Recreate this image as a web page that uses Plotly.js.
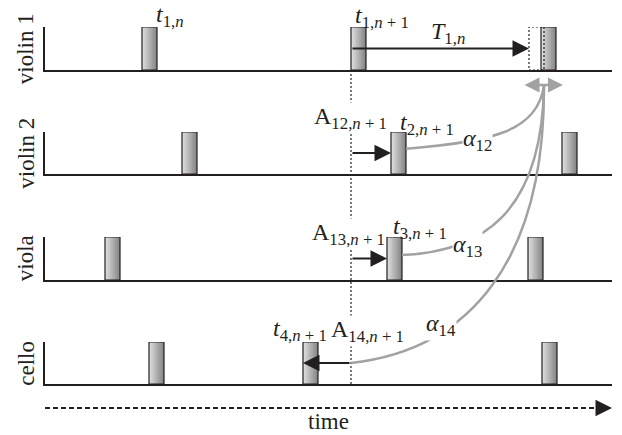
<!DOCTYPE html>
<html>
<head>
<meta charset="utf-8">
<script src="https://cdn.plot.ly/plotly-3.0.1.min.js"></script>
<style>html,body{margin:0;padding:0;background:#fff;}#chart{width:622px;height:435px;}</style>
</head>
<body>
<div id="chart"></div>
<script>
// ---- data (time units along the shared time axis) ----
const instruments = ['violin 1', 'violin 2', 'viola', 'cello'];
const violin1Onsets = [97, 306, 496];
const violin2Onsets = [137, 346, 517];
const violaOnsets = [60, 342, 483];
const celloOnsets = [104, 258, 497];
const predictedViolin1Onset = 484;   // dotted (expected) note of violin 1
const noteDuration = 15;
const timeRange = [0, 567];
const allOnsets = [violin1Onsets, violin2Onsets, violaOnsets, celloOnsets];

// ---- styling ----
const FONT = '"Liberation Serif", "Times New Roman", serif';
const INK = '#231f20';
const GREY = '#a2a2a2';
const domains = [[0.8796, 1], [0.5882, 0.7059], [0.2913, 0.4118], [0, 0.1176]];
const Y = (i, v) => domains[i][0] + v * (domains[i][1] - domains[i][0]);
const axId = i => (i === 0 ? '' : String(i + 1));

// gradient bars: overlayed left-aligned bars of shrinking width, then an outline
const STEPS = 9;
const light = [220, 220, 220], dark = [135, 135, 135];
function shade(k) {
  const f = k / (STEPS - 1);
  const c = dark.map((d, j) => Math.round(d + (light[j] - d) * f));
  return 'rgb(' + c.join(',') + ')';
}

const traces = allOnsets.map((onsets, i) => {
  const x = [], w = [], col = [], lw = [], y = [];
  for (let k = 0; k < STEPS; k++) {
    onsets.forEach(o => { x.push(o); y.push(1); w.push(noteDuration * (STEPS - k) / STEPS); col.push(shade(k)); lw.push(0); });
  }
  onsets.forEach(o => { x.push(o); y.push(1); w.push(noteDuration); col.push('rgba(0,0,0,0)'); lw.push(1.2); });
  return {
    type: 'bar', x: x, y: y, width: w, offset: 0, base: 0,
    marker: { color: col, line: { color: INK, width: lw } },
    xaxis: 'x' + axId(i), yaxis: 'y' + axId(i),
    hoverinfo: 'skip', showlegend: false
  };
});

const layout = {
  width: 622, height: 435,
  margin: { l: 45, r: 10, t: 27, b: 51 },
  paper_bgcolor: '#fff', plot_bgcolor: '#fff',
  barmode: 'overlay', showlegend: false,
  font: { family: FONT, size: 24, color: INK },
  shapes: [], annotations: []
};
instruments.forEach((name, i) => {
  layout['xaxis' + axId(i)] = {
    domain: [0, 1], range: timeRange, anchor: 'y' + axId(i),
    showline: true, linecolor: INK, linewidth: 2, showgrid: false, zeroline: false,
    ticks: '', showticklabels: false, fixedrange: true
  };
  layout['yaxis' + axId(i)] = {
    domain: domains[i], range: [0, 1], anchor: 'x' + axId(i),
    showline: true, linecolor: INK, linewidth: 2, showgrid: false, zeroline: false,
    ticks: '', showticklabels: false, fixedrange: true
  };
  layout.annotations.push({
    xref: 'paper', yref: 'paper', x: -0.034, y: Y(i, 0.5), text: name, textangle: -90,
    showarrow: false, xanchor: 'center', yanchor: 'middle', font: { size: 23 }
  });
});

const ref = violin1Onsets[1];       // t_{1,n+1}
const stemX = predictedViolin1Onset + noteDuration;
const stemY = Y(0, -0.35);

// dotted reference line and dotted predicted note
layout.shapes.push({ type: 'line', xref: 'x', yref: 'paper', x0: ref, x1: ref, y0: Y(3, 0), y1: Y(0, 0),
  line: { color: INK, width: 1.2, dash: '2px,2px' }, layer: 'below' });
layout.shapes.push({ type: 'rect', xref: 'x', yref: 'y', x0: predictedViolin1Onset, x1: stemX, y0: 0, y1: 1,
  line: { color: INK, width: 1.2, dash: '2px,2px' } });

// grey coupling curves (alpha)
function curve(x0, y0, c1x, c1y, c2x, c2y) {
  return { type: 'path', xref: 'x', yref: 'paper',
    path: `M ${x0},${y0} C ${c1x},${c1y} ${c2x},${c2y} ${stemX},${stemY}`,
    line: { color: GREY, width: 2.5 } };
}
layout.shapes.push(curve(violin2Onsets[1] + noteDuration, Y(1, 0.6), 445, Y(1, 0.76), 493, Y(1, 1.0)));
layout.shapes.push(curve(violaOnsets[1] + noteDuration, Y(2, 0.58), 435, Y(2, 0.65), 497, Y(2, 1.51)));
layout.shapes.push(curve(ref, Y(3, 0.5), 425, Y(3, 0.81), 500, Y(3, 2.95)));

// time axis (dashed arrow)
layout.shapes.push({ type: 'line', xref: 'paper', yref: 'paper', x0: 0, x1: 0.975, y0: -0.0672, y1: -0.0672,
  line: { color: INK, width: 2.2, dash: '5px,3px' } });
layout.annotations.push({ xref: 'paper', yref: 'paper', x: 1, y: -0.0672, ax: -14, ay: 0, text: '',
  showarrow: true, arrowhead: 2, arrowsize: 1.5, arrowwidth: 2.2, arrowcolor: INK });
layout.annotations.push({ xref: 'paper', yref: 'paper', x: 0.5, y: -0.104, text: 'time', showarrow: false,
  xanchor: 'center', yanchor: 'middle', font: { size: 23 } });

// black arrows (intervals)
function arrow(i, head, tail) {
  return { xref: 'x', yref: 'paper', x: head, y: Y(i, 0.5), axref: 'x', ax: tail, ayref: 'pixel', ay: 0,
    text: '', showarrow: true, arrowhead: 2, arrowsize: 1.5, arrowwidth: 2.2, arrowcolor: INK };
}
layout.annotations.push(arrow(0, predictedViolin1Onset, ref));
layout.annotations.push(arrow(1, violin2Onsets[1], ref));
layout.annotations.push(arrow(2, violaOnsets[1], ref));
layout.annotations.push(arrow(3, celloOnsets[1], ref));
// grey double arrow (timing deviation)
layout.annotations.push({ xref: 'x', yref: 'paper', x: stemX + 19, y: stemY, axref: 'x', ax: stemX - 21, ayref: 'pixel', ay: 0,
  text: '', showarrow: true, arrowhead: 2, arrowside: 'end+start', arrowsize: 1.2, arrowwidth: 2.5, arrowcolor: GREY });

// text labels
function label(i, x, v, text, bg) {
  return { xref: 'x', yref: 'paper', x: x, y: Y(i, v), text: text, showarrow: false,
    xanchor: 'center', yanchor: 'middle', bgcolor: bg ? '#fff' : 'rgba(0,0,0,0)', borderpad: 0 };
}
layout.annotations.push(label(0, 125, 1.26, '<i>t</i><sub>1,<i>n</i></sub>'));
layout.annotations.push(label(0, 337, 1.23, '<i>t</i><sub>1,<i>n</i> + 1</sub>'));
layout.annotations.push(label(0, 403, 0.86, '<i>T</i><sub>1,<i>n</i></sub>'));
layout.annotations.push(label(1, 305, 1.33, 'A<sub>12,<i>n</i> + 1</sub>', true));
layout.annotations.push(label(1, 382, 1.19, '<i>t</i><sub>2,<i>n</i> + 1</sub>'));
layout.annotations.push(label(1, 432, 0.81, '<i>α</i><sub>12</sub>', true));
layout.annotations.push(label(2, 303, 1.07, 'A<sub>13,<i>n</i> + 1</sub>', true));
layout.annotations.push(label(2, 375, 1.21, '<i>t</i><sub>3,<i>n</i> + 1</sub>'));
layout.annotations.push(label(2, 422, 0.79, '<i>α</i><sub>13</sub>', true));
layout.annotations.push(label(3, 396, 1.40, '<i>α</i><sub>14</sub>', true));
layout.annotations.push(label(3, 255, 1.29, '<i>t</i><sub>4,<i>n</i> + 1</sub>'));
layout.annotations.push(label(3, 322, 1.26, 'A<sub>14,<i>n</i> + 1</sub>', true));

Plotly.newPlot('chart', traces, layout, { staticPlot: true, displayModeBar: false });
</script>
</body>
</html>
